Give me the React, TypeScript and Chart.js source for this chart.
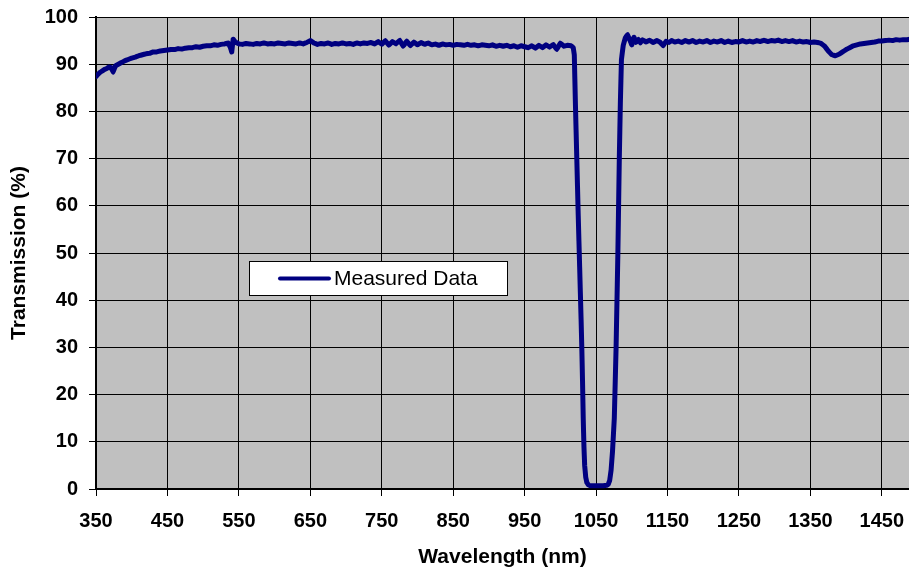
import React, { useEffect, useRef } from "react";
import { Chart, registerables } from "chart.js";

Chart.register(...registerables);

const wavelengths: number[] = [
  350, 353, 356, 359, 362, 365, 368, 371, 374, 377, 380, 385, 390, 395, 400, 405, 410, 415, 420, 425,
  430, 435, 440, 445, 450, 455, 460, 465, 470, 475, 480, 485, 490, 495, 500, 505, 510, 515, 520, 525,
  530, 535, 538, 540, 542, 545, 550, 555, 560, 565, 570, 575, 580, 585, 590, 595, 600, 605, 610, 615,
  620, 625, 630, 635, 640, 645, 650, 655, 660, 665, 670, 675, 680, 685, 690, 695, 700, 705, 710, 715,
  720, 725, 730, 735, 740, 745, 750, 755, 760, 765, 770, 775, 780, 785, 790, 795, 800, 805, 810, 815,
  820, 825, 830, 835, 840, 845, 850, 855, 860, 865, 870, 875, 880, 885, 890, 895, 900, 905, 910, 915,
  920, 925, 930, 935, 940, 945, 950, 955, 960, 965, 970, 975, 980, 985, 990, 995, 1000, 1005, 1010, 1015,
  1018, 1019.5, 1021, 1023, 1025, 1027, 1029, 1030, 1031, 1032, 1033, 1034, 1035.5, 1037, 1039, 1042, 1050, 1055, 1060, 1065,
  1067, 1069, 1071, 1073, 1075.5, 1078, 1080.5, 1082.5, 1084, 1085.5, 1088, 1091, 1094, 1097, 1100, 1103, 1106, 1109, 1112, 1115,
  1120, 1125, 1130, 1135, 1140, 1144, 1148, 1152, 1156, 1160, 1165, 1170, 1175, 1180, 1185, 1190, 1195, 1200, 1205, 1210,
  1215, 1220, 1225, 1230, 1235, 1240, 1245, 1250, 1255, 1260, 1265, 1270, 1275, 1280, 1285, 1290, 1295, 1300, 1305, 1310,
  1315, 1320, 1325, 1330, 1335, 1340, 1345, 1350, 1355, 1360, 1365, 1370, 1375, 1380, 1385, 1390, 1395, 1400, 1405, 1410,
  1415, 1420, 1425, 1430, 1435, 1440, 1445, 1450, 1455, 1460, 1465, 1470, 1475, 1480, 1485, 1490,
];

const transmission: number[] = [
  87.4, 87.9, 88.3, 88.6, 88.9, 89.1, 89.4, 89.3, 88.3, 89.6, 89.9, 90.3, 90.7, 91.0, 91.3, 91.5, 91.8, 92.0, 92.2, 92.3,
  92.6, 92.6, 92.8, 92.9, 93.0, 93.1, 93.1, 93.3, 93.2, 93.4, 93.5, 93.5, 93.7, 93.6, 93.8, 93.9, 93.9, 94.1, 94.0, 94.2,
  94.3, 94.5, 93.6, 92.6, 95.3, 94.7, 94.3, 94.2, 94.4, 94.3, 94.2, 94.4, 94.3, 94.5, 94.3, 94.4, 94.3, 94.5, 94.4, 94.3,
  94.5, 94.4, 94.3, 94.5, 94.3, 94.6, 95.0, 94.5, 94.2, 94.4, 94.3, 94.5, 94.2, 94.4, 94.3, 94.5, 94.3, 94.4, 94.2, 94.5,
  94.3, 94.5, 94.4, 94.6, 94.3, 94.8, 94.2, 95.0, 94.0, 94.8, 94.3, 95.1, 93.8, 94.9, 93.9, 94.7, 94.1, 94.6, 94.2, 94.5,
  94.1, 94.3, 94.0, 94.3, 94.1, 94.2, 94.0, 94.2, 94.1, 94.0, 94.2, 94.0, 94.1, 93.9, 94.1, 94.0, 93.9, 94.1, 93.8, 94.0,
  93.8, 94.0, 93.7, 93.9, 93.6, 93.9, 93.7, 93.5, 93.9, 93.4, 94.0, 93.5, 94.1, 93.6, 94.2, 93.1, 94.5, 93.8, 94.0, 93.9,
  93.5, 92.0, 82.0, 70.0, 58.0, 47.0, 36.0, 30.0, 23.0, 15.0, 9.0, 5.0, 2.5, 1.4, 0.9, 0.7, 0.7, 0.7, 0.7, 0.8,
  1.0, 1.8, 4.0, 8.0, 15.0, 30.0, 50.0, 70.0, 82.0, 91.0, 94.0, 95.6, 96.3, 95.2, 94.1, 95.7, 94.6, 95.3, 94.5, 95.2,
  94.7, 95.1, 94.6, 95.0, 94.6, 93.9, 94.9, 94.6, 95.0, 94.7, 94.9, 94.6, 95.0, 94.7, 95.0, 94.6, 94.9, 94.7, 95.0, 94.6,
  94.9, 94.7, 95.0, 94.6, 94.9, 94.6, 94.8, 94.7, 95.0, 94.7, 94.9, 94.7, 95.0, 94.8, 95.1, 94.8, 95.0, 94.9, 95.1, 94.8,
  95.0, 94.8, 95.0, 94.7, 94.9, 94.7, 94.8, 94.6, 94.7, 94.6, 94.4, 93.8, 92.8, 92.0, 91.8, 92.1, 92.6, 93.1, 93.5, 93.9,
  94.1, 94.3, 94.4, 94.5, 94.6, 94.7, 94.9, 94.9, 95.0, 95.1, 95.0, 95.2, 95.1, 95.2, 95.2, 95.3,
];

const xTicks: number[] = [350, 450, 550, 650, 750, 850, 950, 1050, 1150, 1250, 1350, 1450];
const seriesLabel = "Measured Data";
const xTitle = "Wavelength (nm)";
const yTitle = "Transmission (%)";

const FONT = "'Liberation Sans', Arial, Helvetica, sans-serif";
const LINE_COLOR = "#000080";

const plotBg = {
  id: "plotBg",
  beforeDraw(chart: any) {
    const { ctx, chartArea } = chart;
    ctx.save();
    ctx.fillStyle = "#C0C0C0";
    ctx.fillRect(chartArea.left, chartArea.top, chartArea.right - chartArea.left, chartArea.bottom - chartArea.top);
    ctx.restore();
  },
};

const boxLegend = {
  id: "boxLegend",
  afterDraw(chart: any) {
    const { ctx } = chart;
    const ds = chart.data.datasets[0];
    const bx = 249.5, by = 261.5, bw = 258, bh = 34;
    ctx.save();
    ctx.fillStyle = "#FFFFFF";
    ctx.fillRect(bx, by, bw, bh);
    ctx.strokeStyle = "#000000";
    ctx.lineWidth = 1;
    ctx.strokeRect(bx, by, bw, bh);
    const cy = by + bh / 2;
    ctx.strokeStyle = ds.borderColor;
    ctx.lineWidth = 4;
    ctx.lineCap = "round";
    ctx.beginPath();
    ctx.moveTo(280, cy);
    ctx.lineTo(329, cy);
    ctx.stroke();
    ctx.fillStyle = "#000000";
    ctx.font = `21px ${FONT}`;
    ctx.textBaseline = "middle";
    ctx.textAlign = "left";
    ctx.fillText(ds.label, 334, cy + 1);
    ctx.restore();
  },
};

export default function App() {
  const canvasRef = useRef<HTMLCanvasElement | null>(null);

  useEffect(() => {
    if (!canvasRef.current) return;
    const points = wavelengths.map((w, i) => ({ x: w, y: transmission[i] }));
    const chart = new Chart(canvasRef.current, {
      type: "line",
      data: {
        datasets: [
          {
            label: seriesLabel,
            data: points,
            borderColor: LINE_COLOR,
            backgroundColor: LINE_COLOR,
            borderWidth: 5,
            pointRadius: 0,
            tension: 0.01,
            borderJoinStyle: "round",
            borderCapStyle: "round",
          },
        ],
      },
      options: {
        responsive: false,
        animation: false,
        layout: { padding: { top: 17, right: 0, bottom: 0, left: 0 } },
        plugins: {
          legend: { display: false },
          tooltip: { enabled: false },
        },
        scales: {
          x: {
            type: "linear",
            min: 350,
            max: 1488,
            afterBuildTicks: (axis: any) => {
              axis.ticks = xTicks.map((v) => ({ value: v }));
            },
            afterFit: (axis: any) => {
              axis.height = 84;
              axis.paddingLeft = 0;
              axis.paddingRight = 0;
              axis.paddingTop = 0;
              axis.paddingBottom = 0;
            },
            ticks: {
              autoSkip: false,
              maxRotation: 0,
              padding: 13,
              color: "#000",
              font: { family: FONT, size: 20, weight: "bold" },
              callback: (v: any) => String(v),
            },
            grid: { color: "#000", lineWidth: 1, tickLength: 7, drawTicks: true },
            border: { display: true, color: "#000", width: 2 },
            title: {
              display: true,
              text: xTitle,
              color: "#000",
              font: { family: FONT, size: 21, weight: "bold" },
              padding: { top: 0, bottom: 3 },
            },
          },
          y: {
            type: "linear",
            min: 0,
            max: 100,
            afterFit: (axis: any) => {
              axis.width = 96;
              axis.paddingLeft = 0;
              axis.paddingRight = 0;
              axis.paddingTop = 0;
              axis.paddingBottom = 0;
            },
            ticks: {
              stepSize: 10,
              padding: 11,
              color: "#000",
              font: { family: FONT, size: 20, weight: "bold" },
            },
            grid: { color: "#000", lineWidth: 1, tickLength: 7, drawTicks: true },
            border: { display: true, color: "#000", width: 2 },
            title: {
              display: true,
              text: yTitle,
              color: "#000",
              font: { family: FONT, size: 21, weight: "bold" },
              padding: { top: 7, bottom: 0 },
            },
          },
        },
      },
      plugins: [plotBg, boxLegend],
    } as any);
    return () => chart.destroy();
  }, []);

  return (
    <div style={{ position: "fixed", left: 0, top: 0, width: 909, height: 573, background: "#fff" }}>
      <canvas ref={canvasRef} width={909} height={573} style={{ width: 909, height: 573, display: "block" }} />
    </div>
  );
}
